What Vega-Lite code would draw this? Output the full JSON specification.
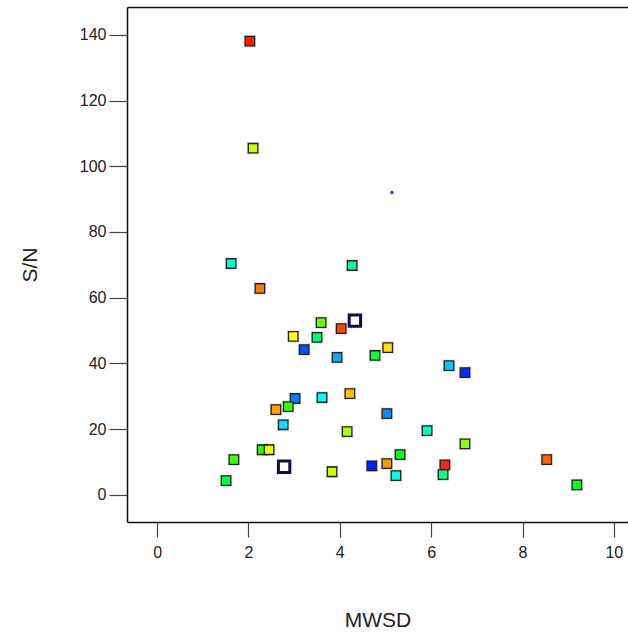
{
  "$schema": "https://vega.github.io/schema/vega-lite/v6.json",
  "width": 501,
  "height": 515,
  "autosize": "none",
  "padding": {"left": 127, "top": 7, "right": 0, "bottom": 113},
  "background": "white",
  "config": {
    "font": "Liberation Sans",
    "view": {"stroke": null},
    "axis": {"grid": false, "domainColor": "#111", "domainWidth": 1.5, "tickColor": "#444", "tickWidth": 1.2, "labelFontSize": 16, "labelColor": "#222", "titleFontSize": 21, "titleFontWeight": "normal", "titleColor": "#222"}
  },
  "data": {"values": [
    {"x": 2.03, "y": 138.1, "z": 0.97, "t": "s"},
    {"x": 2.10, "y": 105.5, "z": 0.69, "t": "s"},
    {"x": 5.14, "y": 92.0, "z": 0.0, "t": "d"},
    {"x": 1.62, "y": 70.4, "z": 0.30, "t": "s"},
    {"x": 4.27, "y": 69.8, "z": 0.35, "t": "s"},
    {"x": 2.25, "y": 62.8, "z": 0.88, "t": "s"},
    {"x": 3.59, "y": 52.4, "z": 0.60, "t": "s"},
    {"x": 4.33, "y": 53.0, "z": 0.0, "t": "o"},
    {"x": 4.03, "y": 50.6, "z": 0.93, "t": "s"},
    {"x": 2.98, "y": 48.2, "z": 0.75, "t": "s"},
    {"x": 3.50, "y": 47.9, "z": 0.39, "t": "s"},
    {"x": 3.22, "y": 44.2, "z": 0.08, "t": "s"},
    {"x": 3.94, "y": 41.8, "z": 0.17, "t": "s"},
    {"x": 4.77, "y": 42.4, "z": 0.437, "t": "s"},
    {"x": 5.05, "y": 44.8, "z": 0.78, "t": "s"},
    {"x": 6.39, "y": 39.3, "z": 0.20, "t": "s"},
    {"x": 6.74, "y": 37.2, "z": 0.047, "t": "s"},
    {"x": 3.02, "y": 29.3, "z": 0.125, "t": "s"},
    {"x": 3.61, "y": 29.6, "z": 0.25, "t": "s"},
    {"x": 4.22, "y": 30.8, "z": 0.81, "t": "s"},
    {"x": 2.87, "y": 26.8, "z": 0.55, "t": "s"},
    {"x": 2.60, "y": 25.9, "z": 0.84, "t": "s"},
    {"x": 5.03, "y": 24.7, "z": 0.14, "t": "s"},
    {"x": 2.76, "y": 21.3, "z": 0.22, "t": "s"},
    {"x": 4.16, "y": 19.2, "z": 0.667, "t": "s"},
    {"x": 5.91, "y": 19.5, "z": 0.317, "t": "s"},
    {"x": 6.74, "y": 15.5, "z": 0.633, "t": "s"},
    {"x": 2.30, "y": 13.7, "z": 0.533, "t": "s"},
    {"x": 2.45, "y": 13.7, "z": 0.733, "t": "s"},
    {"x": 5.32, "y": 12.2, "z": 0.47, "t": "s"},
    {"x": 1.68, "y": 10.7, "z": 0.567, "t": "s"},
    {"x": 2.78, "y": 8.5, "z": 0.0, "t": "o"},
    {"x": 3.83, "y": 7.0, "z": 0.70, "t": "s"},
    {"x": 4.70, "y": 8.8, "z": 0.03, "t": "s"},
    {"x": 5.03, "y": 9.5, "z": 0.85, "t": "s"},
    {"x": 6.30, "y": 9.1, "z": 0.967, "t": "s"},
    {"x": 8.53, "y": 10.7, "z": 0.90, "t": "s"},
    {"x": 1.51, "y": 4.3, "z": 0.433, "t": "s"},
    {"x": 5.23, "y": 5.8, "z": 0.283, "t": "s"},
    {"x": 6.26, "y": 6.1, "z": 0.367, "t": "s"},
    {"x": 9.19, "y": 3.0, "z": 0.467, "t": "s"}
  ]},
  "resolve": {"axis": {"x": "independent"}},
  "layer": [
    {
      "transform": [{"filter": "datum.t !== 'd'"}],
      "mark": {"type": "square", "size": 150, "filled": true, "color": "#888", "opacity": 0.3},
      "encoding": {
        "x": {"field": "x", "type": "quantitative", "scale": {"domain": [-0.66, 10.31], "nice": false, "zero": false}, "axis": {"values": [0, 2, 4, 6, 8, 10], "title": "MWSD", "tickSize": 15, "labelPadding": 7, "titlePadding": 49}},
        "y": {"field": "y", "type": "quantitative", "scale": {"domain": [-8.3, 148.5], "nice": false, "zero": false}, "axis": {"values": [0, 20, 40, 60, 80, 100, 120, 140], "title": "S/N", "tickSize": 18, "labelPadding": 3, "titlePadding": 39}}
      }
    },
    {
      "transform": [{"filter": "datum.t === 's'"}],
      "mark": {"type": "square", "size": 90, "filled": true, "stroke": "#222", "strokeWidth": 1.3, "opacity": 1, "fillOpacity": 1},
      "encoding": {
        "x": {"field": "x", "type": "quantitative", "axis": {"orient": "top", "labels": false, "ticks": false, "title": null, "domain": true}},
        "y": {"field": "y", "type": "quantitative"},
        "fill": {"field": "z", "type": "quantitative", "scale": {"domain": [0, 0.25, 0.5, 0.75, 1], "range": ["#0000ff", "#00ffff", "#00ff00", "#ffff00", "#ff0000"], "interpolate": "rgb"}, "legend": null}
      }
    },
    {
      "transform": [{"filter": "datum.t === 'o'"}],
      "mark": {"type": "square", "size": 130, "filled": true, "fill": "white", "stroke": "#0b0b50", "strokeWidth": 3, "opacity": 1},
      "encoding": {
        "x": {"field": "x", "type": "quantitative", "axis": null},
        "y": {"field": "y", "type": "quantitative"}
      }
    },
    {
      "transform": [{"filter": "datum.t === 'd'"}],
      "mark": {"type": "circle", "size": 12, "color": "#1e3cff", "opacity": 1},
      "encoding": {
        "x": {"field": "x", "type": "quantitative", "axis": null},
        "y": {"field": "y", "type": "quantitative"}
      }
    }
  ]
}
